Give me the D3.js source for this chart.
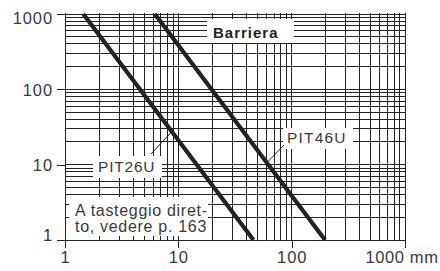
<!DOCTYPE html>
<html><head><meta charset="utf-8">
<script src="https://cdn.jsdelivr.net/npm/d3@7"></script>
<style>
html,body{margin:0;padding:0;background:#fff;}
svg{display:block;font-family:"Liberation Sans",Arial,Helvetica,sans-serif;}
</style></head>
<body><svg id="c" width="440" height="271"></svg>
<script>
// ---- data ----
const xTicks = [1, 10, 100, 1000];
const yTicks = [1, 10, 100, 1000];
const xTickLabels = ["1", "10", "100", "1000 mm"];
const yTickLabels = ["1", "10", "100", "1000"];
const seriesNames = ["PIT26U", "PIT46U"];
const pit26uX = [1.45, 46];
const pit26uY = [1000, 1];
const pit46uX = [6.2, 197];
const pit46uY = [1000, 1];
const titleText = "Barriera";
const noteLines = ["A tasteggio diret-", "to, vedere p. 163"];

const svg = d3.select("#c");
const L = 65, R = 405, T = 14, B = 240;
const x = d3.scaleLog().domain([1, 1000]).range([L, R]);
const y = d3.scaleLog().domain([1, 1000]).range([B, T]);
const ink = "#222", txt = "#3a3a3a";

// grid values
const minor = [];
[1, 10, 100].forEach(d => { for (let k = 1; k <= 9; k++) minor.push(k * d); });
minor.push(1000);

const g = svg.append("g").attr("shape-rendering", "crispEdges");
g.selectAll("line.v").data(minor).join("line")
  .attr("x1", d => x(d)).attr("x2", d => x(d))
  .attr("y1", T - 1).attr("y2", B)
  .attr("stroke", ink).attr("stroke-width", 1);
g.selectAll("line.h").data(minor).join("line")
  .attr("x1", L).attr("x2", R)
  .attr("y1", d => y(d)).attr("y2", d => y(d))
  .attr("stroke", ink).attr("stroke-width", 1);

// axes
const xa = svg.append("g").attr("transform", `translate(0,${B})`)
  .call(d3.axisBottom(x).tickValues(xTicks).tickSize(8).tickPadding(4)
    .tickFormat((d, i) => xTickLabels[i]));
const ya = svg.append("g").attr("transform", `translate(${L},0)`)
  .call(d3.axisLeft(y).tickValues(yTicks).tickSize(8).tickPadding(4)
    .tickFormat((d, i) => yTickLabels[i]));
[xa, ya].forEach(a => {
  a.select(".domain").remove();
  a.selectAll(".tick line").attr("stroke", ink).attr("shape-rendering", "crispEdges");
  a.selectAll(".tick text").attr("fill", txt).style("font-size", "16.5px")
    .style("letter-spacing", "0.9px").style("font-family", "'Liberation Sans',Arial,sans-serif");
});
xa.selectAll(".tick text").attr("dy", null).attr("y", 23);
xa.selectAll(".tick").filter(d => d === 1000).select("text")
  .attr("text-anchor", "start").attr("x", -40).style("letter-spacing", "0.6px");
ya.selectAll(".tick text").attr("dy", "0.35em");
ya.selectAll(".tick").filter(d => d === 1000).select("text").attr("dy", "0.6em");
ya.selectAll(".tick").filter(d => d === 1).select("text").attr("dy", "0em");

// annotation boxes (white, covering grid)
function box(x0, y0, x1, y1) {
  svg.append("rect").attr("x", x0).attr("y", y0).attr("width", x1 - x0).attr("height", y1 - y0).attr("fill", "#fff");
}
box(207, 19, 294, 43);
box(93, 156, 162, 178);
box(283, 128, 353, 149);
box(69, 197, 208, 236);

// series lines
const line = d3.line().x(d => x(d[0])).y(d => y(d[1]));
const series = [d3.zip(pit26uX, pit26uY), d3.zip(pit46uX, pit46uY)];
svg.selectAll("path.s").data(series).join("path")
  .attr("d", line).attr("fill", "none").attr("stroke", ink)
  .attr("stroke-width", 4.2).attr("stroke-linecap", "butt");

// leader lines to series
function onLine(s, yv) {
  const [a, b] = s;
  const t = (Math.log10(a[1]) - Math.log10(yv)) / (Math.log10(a[1]) - Math.log10(b[1]));
  const lx = Math.log10(a[0]) + t * (Math.log10(b[0]) - Math.log10(a[0]));
  return [x(Math.pow(10, lx)), y(yv)];
}
const p26 = onLine(series[0], 27.5);
const p46 = onLine(series[1], 10.6);
svg.append("line").attr("x1", 151).attr("y1", 154).attr("x2", p26[0]).attr("y2", p26[1]).attr("stroke", ink).attr("stroke-width", 1);
svg.append("line").attr("x1", 284).attr("y1", 145).attr("x2", p46[0]).attr("y2", p46[1]).attr("stroke", ink).attr("stroke-width", 1);

// texts
svg.append("text").attr("x", 213).attr("y", 38).text(titleText)
  .attr("fill", "#222").style("font-size", "15px").style("font-weight", "bold").style("letter-spacing", "1px");
svg.append("text").attr("x", 98).attr("y", 172).text(seriesNames[0])
  .attr("fill", txt).style("font-size", "15.5px").style("letter-spacing", "0.8px");
svg.append("text").attr("x", 287).attr("y", 143).text(seriesNames[1])
  .attr("fill", txt).style("font-size", "15.5px").style("letter-spacing", "1.2px");
noteLines.forEach((t, i) => {
  svg.append("text").attr("x", 75).attr("y", 216 + i * 16).text(t)
    .attr("fill", txt).style("font-size", "16px").style("letter-spacing", "0.7px");
});
</script></body></html>
